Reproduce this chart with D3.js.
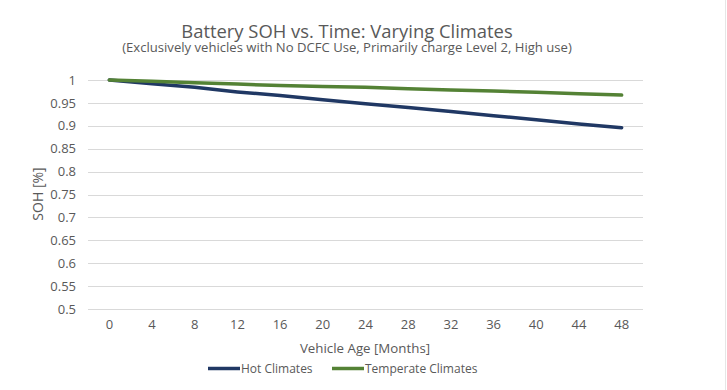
<!DOCTYPE html>
<html><head><meta charset="utf-8">
<script src="https://cdn.jsdelivr.net/npm/d3@7"></script>
<style>
body{margin:0;background:#fff;}
svg text{font-family:"Open Sans",sans-serif;fill:#595959;}
</style></head>
<body>
<svg id="c" width="727" height="390"></svg>
<script>
const months = [0,4,8,12,16,20,24,28,32,36,40,44,48];
const hotClimates = [1,0.992,0.984,0.974,0.966,0.957,0.948,0.940,0.931,0.922,0.913,0.904,0.896];
const temperateClimates = [1,0.997,0.994,0.991,0.988,0.986,0.984,0.981,0.978,0.976,0.973,0.970,0.967];
const yTicks = [0.5,0.55,0.6,0.65,0.7,0.75,0.8,0.85,0.9,0.95,1];
const seriesNames = ["Hot Climates","Temperate Climates"];
const colors = ["#203864","#548235"];

const svg = d3.select("#c");
svg.append("rect").attr("x",0).attr("y",0).attr("width",725).attr("height",390).attr("fill","#fff");
svg.append("line").attr("x1",725.5).attr("x2",725.5).attr("y1",0).attr("y2",390).attr("stroke","#e6e6e6");

const L=88,R=643,T=80,B=309;
const x = d3.scaleBand().domain(months).range([L,R]);
const y = d3.scaleLinear().domain([0.5,1]).range([B,T]);

// gridlines
svg.append("g").selectAll("line").data(yTicks).join("line")
  .attr("x1",L).attr("x2",R).attr("y1",d=>Math.round(y(d))+0.5).attr("y2",d=>Math.round(y(d))+0.5)
  .attr("stroke","#d9d9d9").attr("stroke-width",1);

// y axis labels
const yAxis = d3.axisLeft(y).tickValues(yTicks).tickSize(0).tickPadding(12).tickFormat(d=>d3.format("")(+d.toFixed(2)));
const gy = svg.append("g").attr("transform",`translate(${L},0)`).call(yAxis);
gy.select(".domain").remove();
gy.selectAll("text").attr("font-size",13).attr("font-family",null).style("fill","#595959");

// x axis labels
const xAxis = d3.axisBottom(x).tickSize(0).tickPadding(11);
const gx = svg.append("g").attr("transform",`translate(0,${B})`).call(xAxis);
gx.select(".domain").remove();
gx.selectAll("text").attr("font-size",13).attr("font-family",null).style("fill","#595959");

// lines
const line = d3.line().x((d,i)=>x(months[i])+x.bandwidth()/2).y(d=>y(d));
[hotClimates,temperateClimates].forEach((s,i)=>{
  svg.append("path").datum(s).attr("d",line).attr("fill","none")
    .attr("stroke",colors[i]).attr("stroke-width",3.5).attr("stroke-linecap","round");
});

// titles
svg.append("text").attr("x",347).attr("y",38).attr("text-anchor","middle").attr("font-size",18.4)
  .text("Battery SOH vs. Time: Varying Climates");
svg.append("text").attr("x",347).attr("y",52).attr("text-anchor","middle").attr("font-size",13.1)
  .text("(Exclusively vehicles with No DCFC Use, Primarily charge Level 2, High use)");
svg.append("text").attr("x",365).attr("y",353).attr("text-anchor","middle").attr("font-size",13.3)
  .text("Vehicle Age [Months]");
svg.append("text").attr("transform","translate(43,194) rotate(-90)").attr("text-anchor","middle").attr("font-size",14)
  .text("SOH [%]");

// legend
const legendX = [208,332];
const lg = svg.append("g");
seriesNames.forEach((n,i)=>{
  lg.append("line").attr("x1",legendX[i]).attr("x2",legendX[i]+32).attr("y1",368.5).attr("y2",368.5)
    .attr("stroke",colors[i]).attr("stroke-width",3.5);
  lg.append("text").attr("x",legendX[i]+33).attr("y",372.5).attr("font-size",12).text(n);
});
</script>
</body></html>
